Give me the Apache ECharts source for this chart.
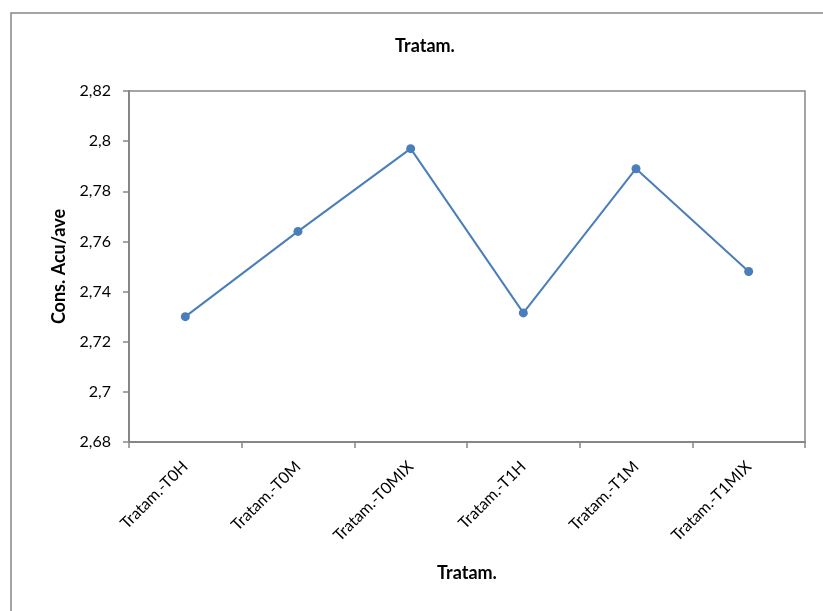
<!DOCTYPE html>
<html>
<head>
<meta charset="utf-8">
<script src="https://cdn.jsdelivr.net/npm/echarts@6/dist/echarts.min.js"></script>
<style>
    html, body { margin: 0; padding: 0; background: #fff; }
    #chart { width: 823px; height: 611px; }
</style>
</head>
<body>
<div id="chart"></div>
<script>
    // data
    var categories = ['Tratam.-T0H', 'Tratam.-T0M', 'Tratam.-T0MIX', 'Tratam.-T1H', 'Tratam.-T1M', 'Tratam.-T1MIX'];
    var values = [2.730, 2.764, 2.797, 2.7315, 2.789, 2.748];
    var yMin = 2.68, yMax = 2.82, yStep = 0.02;

    var gray = '#868686';
    var font = 'Lato, "Open Sans", sans-serif';

    function commaNum(v) {
        return String(+v.toFixed(2)).replace('.', ',');
    }

    var chart = echarts.init(document.getElementById('chart'));
    chart.setOption({
        backgroundColor: '#fff',
        animation: false,
        title: {
            text: 'Tratam.',
            left: 420,
            top: 32,
            textAlign: 'center',
            textStyle: { fontFamily: font, fontWeight: 'bold', fontSize: 18, color: '#000' }
        },
        graphic: [{
            type: 'rect',
            shape: { x: 11, y: 13, width: 830, height: 620 },
            style: { fill: 'none', stroke: gray, lineWidth: 1.5 }
        }],
        grid: {
            left: 129, right: 18, top: 91, bottom: 169,
            show: true, borderColor: gray, borderWidth: 1.5,
            containLabel: false
        },
        xAxis: {
            type: 'category',
            data: categories,
            name: 'Tratam.',
            nameLocation: 'middle',
            nameGap: 122,
            nameTextStyle: { fontFamily: font, fontWeight: 'bold', fontSize: 18, color: '#000' },
            axisLine: { lineStyle: { color: gray, width: 2 } },
            axisTick: { show: true, length: 6, lineStyle: { color: gray, width: 1.5 } },
            axisLabel: { rotate: 45, margin: 22, fontFamily: font, fontSize: 16, color: '#000' }
        },
        yAxis: {
            type: 'value',
            min: yMin, max: yMax, interval: yStep,
            name: 'Cons. Acu/ave',
            nameLocation: 'middle',
            nameGap: 60,
            nameTextStyle: { fontFamily: font, fontWeight: 'bold', fontSize: 18, color: '#000' },
            splitLine: { show: false },
            axisLine: { show: true, lineStyle: { color: gray, width: 2 } },
            axisTick: { show: true, length: 6, lineStyle: { color: gray, width: 1.5 } },
            axisLabel: { margin: 18, fontFamily: font, fontSize: 16, color: '#000', formatter: commaNum }
        },
        series: [{
            type: 'line',
            data: values,
            symbol: 'circle',
            symbolSize: 9,
            lineStyle: { color: '#4a7ebb', width: 2 },
            itemStyle: { color: '#4a7ebb' }
        }]
    });
</script>
</body>
</html>
